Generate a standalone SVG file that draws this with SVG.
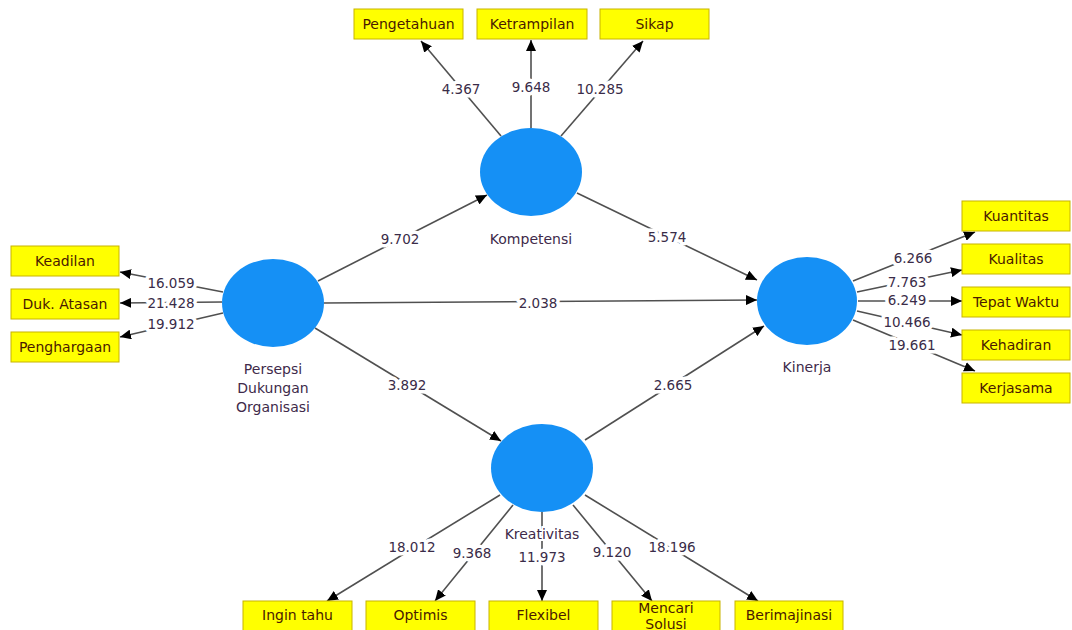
<svg xmlns="http://www.w3.org/2000/svg" width="1072" height="630" viewBox="0 0 1072 630">
<style>
.bg{fill:#ffffff}
.lv{fill:#1590f5}
.box rect{fill:#ffff00;stroke:#c8b400;stroke-width:1}
.box text{font-family:"DejaVu Sans",Verdana,sans-serif;font-size:14px;fill:#4a1a00;text-anchor:middle}
.lab{font-family:"DejaVu Sans",Verdana,sans-serif;font-size:14px;fill:#402a4a;text-anchor:middle}
.num{font-family:"DejaVu Sans",Verdana,sans-serif;font-size:13.5px;fill:#3a2c48;text-anchor:middle;paint-order:stroke;stroke:#ffffff;stroke-width:7px;stroke-linejoin:round}
.edge{stroke:#505050;stroke-width:1.6;fill:none;marker-end:url(#ah)}
</style>
<defs>
<marker id="ah" markerUnits="userSpaceOnUse" markerWidth="12" markerHeight="10" refX="11" refY="5" orient="auto">
<path d="M0,0 L11,5 L0,10 z" fill="#000000"/>
</marker>
</defs>
<rect class="bg" x="0" y="0" width="1072" height="630"/>

<g id="connectors">
<line class="edge" x1="501" y1="136" x2="421" y2="41"/>
<line class="edge" x1="531" y1="128" x2="531" y2="40"/>
<line class="edge" x1="561" y1="136" x2="643" y2="41"/>
<line class="edge" x1="223" y1="292" x2="120" y2="272"/>
<line class="edge" x1="222" y1="302" x2="120" y2="303"/>
<line class="edge" x1="223" y1="313" x2="120" y2="337"/>
<line class="edge" x1="853" y1="281" x2="975" y2="232"/>
<line class="edge" x1="857" y1="292" x2="962" y2="270"/>
<line class="edge" x1="858" y1="301" x2="962" y2="301"/>
<line class="edge" x1="857" y1="311" x2="962" y2="335"/>
<line class="edge" x1="853" y1="320" x2="975" y2="371"/>
<line class="edge" x1="500" y1="495" x2="327" y2="601"/>
<line class="edge" x1="513" y1="505" x2="435" y2="601"/>
<line class="edge" x1="542" y1="512" x2="542" y2="601"/>
<line class="edge" x1="573" y1="505" x2="652" y2="601"/>
<line class="edge" x1="585" y1="495" x2="758" y2="601"/>
<line class="edge" x1="318" y1="281" x2="487" y2="195"/>
<line class="edge" x1="577" y1="193" x2="757" y2="280"/>
<line class="edge" x1="324" y1="303" x2="757" y2="300"/>
<line class="edge" x1="315" y1="328" x2="501" y2="441"/>
<line class="edge" x1="585" y1="440" x2="764" y2="326"/>
<text class="num" x="461" y="94">4.367</text>
<text class="num" x="531" y="92">9.648</text>
<text class="num" x="600" y="94">10.285</text>
<text class="num" x="171" y="288">16.059</text>
<text class="num" x="171" y="308">21.428</text>
<text class="num" x="171" y="329">19.912</text>
<text class="num" x="913" y="263">6.266</text>
<text class="num" x="907" y="287">7.763</text>
<text class="num" x="907" y="305">6.249</text>
<text class="num" x="907" y="327">10.466</text>
<text class="num" x="912" y="350">19.661</text>
<text class="num" x="412" y="552">18.012</text>
<text class="num" x="472" y="558">9.368</text>
<text class="num" x="542" y="562">11.973</text>
<text class="num" x="612" y="557">9.120</text>
<text class="num" x="672" y="552">18.196</text>
<text class="num" x="400" y="244">9.702</text>
<text class="num" x="667" y="242">5.574</text>
<text class="num" x="538" y="308">2.038</text>
<text class="num" x="407" y="390">3.892</text>
<text class="num" x="673" y="390">2.665</text>
</g>

<g id="kompetensi">
<ellipse class="lv" cx="531" cy="172" rx="51" ry="44"/>
<text class="lab" x="531" y="244">Kompetensi</text>
</g>
<g id="pdo">
<ellipse class="lv" cx="273" cy="303" rx="51" ry="44"/>
<text class="lab" x="273" y="374">Persepsi</text>
<text class="lab" x="273" y="393">Dukungan</text>
<text class="lab" x="273" y="412">Organisasi</text>
</g>
<g id="kinerja">
<ellipse class="lv" cx="807" cy="301" rx="50" ry="44"/>
<text class="lab" x="807" y="372">Kinerja</text>
</g>
<g id="kreativitas">
<ellipse class="lv" cx="542" cy="468" rx="51" ry="44"/>
<text class="lab" x="542" y="539" style="paint-order:stroke;stroke:#ffffff;stroke-width:4px">Kreativitas</text>
</g>

<g id="pengetahuan" class="box"><rect x="354" y="9" width="109" height="30"/><text x="408.5" y="29">Pengetahuan</text></g>
<g id="ketrampilan" class="box"><rect x="477" y="9" width="110" height="30"/><text x="532" y="29">Ketrampilan</text></g>
<g id="sikap" class="box"><rect x="600" y="9" width="109" height="30"/><text x="654.5" y="29">Sikap</text></g>

<g id="keadilan" class="box"><rect x="11" y="246" width="108" height="30"/><text x="65" y="266">Keadilan</text></g>
<g id="dukatasan" class="box"><rect x="11" y="289" width="108" height="30"/><text x="65" y="309">Duk. Atasan</text></g>
<g id="penghargaan" class="box"><rect x="11" y="332" width="108" height="30"/><text x="65" y="352">Penghargaan</text></g>

<g id="kuantitas" class="box"><rect x="962" y="201" width="108" height="30"/><text x="1016" y="221">Kuantitas</text></g>
<g id="kualitas" class="box"><rect x="962" y="244" width="108" height="30"/><text x="1016" y="264">Kualitas</text></g>
<g id="tepatwaktu" class="box"><rect x="962" y="287" width="108" height="30"/><text x="1016" y="307">Tepat Waktu</text></g>
<g id="kehadiran" class="box"><rect x="962" y="330" width="108" height="30"/><text x="1016" y="350">Kehadiran</text></g>
<g id="kerjasama" class="box"><rect x="962" y="373" width="108" height="30"/><text x="1016" y="393">Kerjasama</text></g>

<g id="ingintahu" class="box"><rect x="243" y="601" width="109" height="32"/><text x="297.5" y="620">Ingin tahu</text></g>
<g id="optimis" class="box"><rect x="366" y="601" width="109" height="32"/><text x="420.5" y="620">Optimis</text></g>
<g id="flexibel" class="box"><rect x="489" y="601" width="109" height="32"/><text x="543.5" y="620">Flexibel</text></g>
<g id="mencarisolusi" class="box"><rect x="612" y="601" width="108" height="32"/><text x="666" y="613">Mencari</text><text x="666" y="629">Solusi</text></g>
<g id="berimajinasi" class="box"><rect x="735" y="601" width="108" height="32"/><text x="789" y="620">Berimajinasi</text></g>
</svg>
